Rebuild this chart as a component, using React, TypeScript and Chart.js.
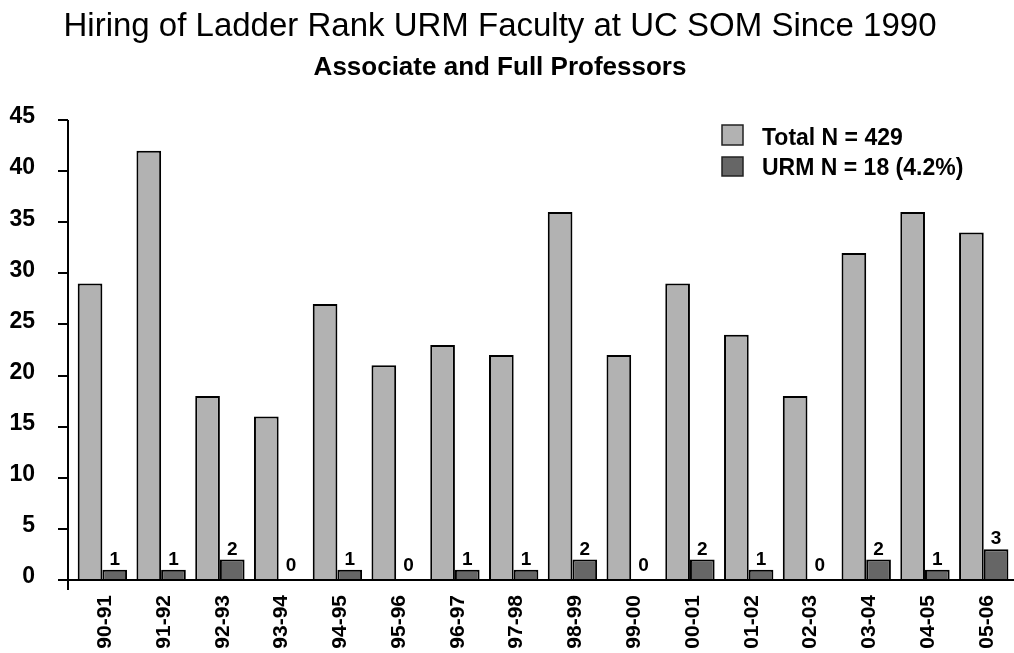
import React, { useEffect, useRef } from "react";
import { Chart, registerables } from "chart.js";

Chart.register(...registerables);

const FONT = "'Liberation Sans', Arial, Helvetica, sans-serif";

const categories = [
  "90-91", "91-92", "92-93", "93-94", "94-95", "95-96", "96-97", "97-98",
  "98-99", "99-00", "00-01", "01-02", "02-03", "03-04", "04-05", "05-06",
];
const totalValues = [29, 42, 18, 16, 27, 21, 23, 22, 36, 22, 29, 24, 18, 32, 36, 34];
const urmValues = [1, 1, 2, 0, 1, 0, 1, 1, 2, 0, 2, 1, 0, 2, 1, 3];
const seriesNames = ["Total N = 429", "URM N = 18 (4.2%)"];
const seriesColors = ["#b2b2b2", "#666666"];
const titleText = "Hiring of Ladder Rank URM Faculty at UC SOM Since 1990";
const subtitleText = "Associate and Full Professors";
const yMin = 0;
const yMax = 45;
const yStep = 5;

export default function App() {
  const ref = useRef<HTMLCanvasElement>(null);

  useEffect(() => {
    const canvas = ref.current;
    if (!canvas) return;

    const decor = {
      id: "decor",
      afterDraw(chart: any) {
        const ctx = chart.ctx as CanvasRenderingContext2D;
        const ca = chart.chartArea;
        const ys = chart.scales.y;
        const axisX = ca.left - 5;
        ctx.save();

        // axes
        ctx.strokeStyle = "#000";
        ctx.lineWidth = 2;
        ctx.beginPath();
        ctx.moveTo(axisX, ys.getPixelForValue(yMax));
        ctx.lineTo(axisX, ca.bottom + 10);
        ctx.moveTo(axisX - 10, ca.bottom);
        ctx.lineTo(chart.width, ca.bottom);
        for (let v = yMin; v <= yMax; v += yStep) {
          const py = Math.round(ys.getPixelForValue(v));
          ctx.moveTo(axisX - 10, py);
          ctx.lineTo(axisX, py);
        }
        ctx.stroke();

        // data labels on URM bars
        const meta = chart.getDatasetMeta(1);
        ctx.fillStyle = "#000";
        ctx.font = `bold 19px ${FONT}`;
        ctx.textAlign = "center";
        ctx.textBaseline = "alphabetic";
        meta.data.forEach((el: any, i: number) => {
          const ty = Math.min(el.y - 5, el.base - 9);
          ctx.fillText(String(urmValues[i]), el.x, ty);
        });

        // titles
        const cx = 500;
        ctx.font = `33px ${FONT}`;
        ctx.fillText(titleText, cx, 36);
        ctx.font = `bold 26px ${FONT}`;
        ctx.fillText(subtitleText, cx, 75);

        // legend
        ctx.textAlign = "left";
        ctx.font = `bold 23px ${FONT}`;
        const rows = [
          { sy: 125, sh: 20, base: 145 },
          { sy: 157, sh: 19, base: 175 },
        ];
        rows.forEach((r, i) => {
          ctx.fillStyle = seriesColors[i];
          ctx.fillRect(722, r.sy, 21, r.sh);
          ctx.strokeStyle = "#222";
          ctx.lineWidth = 1.5;
          ctx.strokeRect(722, r.sy, 21, r.sh);
          ctx.fillStyle = "#000";
          ctx.fillText(seriesNames[i], 762, r.base);
        });
        ctx.restore();
      },
    };

    const chart = new Chart(canvas, {
      type: "bar",
      data: {
        labels: categories,
        datasets: [
          {
            label: seriesNames[0],
            data: totalValues,
            backgroundColor: seriesColors[0],
            borderColor: "#000",
            borderWidth: 2,
            barPercentage: 1,
            categoryPercentage: 0.84,
          },
          {
            label: seriesNames[1],
            data: urmValues,
            backgroundColor: seriesColors[1],
            borderColor: "#000",
            borderWidth: 2,
            barPercentage: 1,
            categoryPercentage: 0.84,
          },
        ],
      },
      options: {
        responsive: false,
        animation: false,
        devicePixelRatio: 1,
        layout: { padding: { top: 120, left: 0, right: 2, bottom: 0 } },
        plugins: {
          legend: { display: false },
          title: { display: false },
          tooltip: { enabled: false },
        },
        scales: {
          x: {
            offset: true,
            grid: { display: false, drawTicks: false },
            border: { display: false },
            ticks: {
              autoSkip: false,
              minRotation: 90,
              maxRotation: 90,
              padding: 15,
              labelOffset: 3,
              color: "#000",
              font: { family: FONT, size: 21, weight: "bold" },
            },
            afterFit: (s: any) => {
              s.height = 73;
            },
          },
          y: {
            min: yMin,
            max: yMax,
            grid: { display: false, drawTicks: false },
            border: { display: false },
            ticks: {
              stepSize: yStep,
              padding: 38,
              labelOffset: -3,
              color: "#000",
              font: { family: FONT, size: 23, weight: "bold" },
            },
            afterFit: (s: any) => {
              s.width = 73;
            },
          },
        },
      },
      plugins: [decor],
    } as any);

    return () => chart.destroy();
  }, []);

  return (
    <div
      style={{
        position: "absolute",
        left: 0,
        top: 0,
        width: 1014,
        height: 653,
        overflow: "hidden",
        background: "#fff",
      }}
    >
      <canvas ref={ref} width={1024} height={653} style={{ display: "block" }} />
    </div>
  );
}
